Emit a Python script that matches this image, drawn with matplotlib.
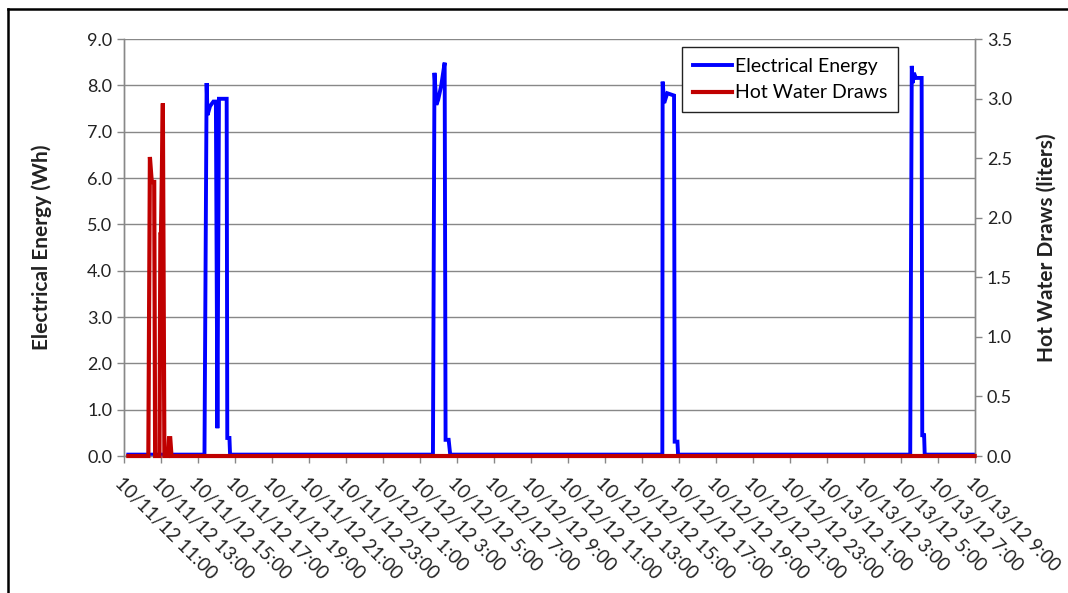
"""Electrical energy and hot water draws, 10/11/12 - 10/13/12.

Left axis: electrical energy per interval (Wh), right axis: hot water
draws (liters).  Output: out.png
"""

import matplotlib
matplotlib.use("Agg")
import matplotlib.pyplot as plt
import matplotlib.dates as mdates
from matplotlib.lines import Line2D
import pandas as pd

plt.rcParams['font.family'] = ['Lato', 'DejaVu Sans']

# ---- data ----
X_START = "2012-10-11 11:00"
X_END = "2012-10-13 09:00"

ELEC_TIMES = [
    "2012-10-11 11:14",
    "2012-10-11 15:21", "2012-10-11 15:28", "2012-10-11 15:31",
    "2012-10-11 15:39", "2012-10-11 15:50", "2012-10-11 15:58",
    "2012-10-11 16:03", "2012-10-11 16:08", "2012-10-11 16:33",
    "2012-10-11 16:35", "2012-10-11 16:42", "2012-10-11 16:44",
    "2012-10-12 03:42", "2012-10-12 03:47", "2012-10-12 03:53",
    "2012-10-12 03:59", "2012-10-12 04:09", "2012-10-12 04:20",
    "2012-10-12 04:23", "2012-10-12 04:33", "2012-10-12 04:38",
    "2012-10-12 16:06", "2012-10-12 16:07", "2012-10-12 16:12",
    "2012-10-12 16:22", "2012-10-12 16:44", "2012-10-12 16:46",
    "2012-10-12 16:55", "2012-10-12 16:57",
    "2012-10-13 05:30", "2012-10-13 05:35", "2012-10-13 05:38",
    "2012-10-13 05:42", "2012-10-13 05:48", "2012-10-13 06:07",
    "2012-10-13 06:09", "2012-10-13 06:15", "2012-10-13 06:17",
    "2012-10-13 08:59",
]
ELEC_WH = [
    0.03,
    0.03, 8.05, 7.36,
    7.55, 7.65, 7.65,
    0.60, 7.71, 7.71,
    0.39, 0.39, 0.03,
    0.03, 8.27, 7.58,
    7.69, 8.00, 8.49,
    0.35, 0.35, 0.03,
    0.03, 8.08, 7.62,
    7.83, 7.78, 0.31,
    0.31, 0.03,
    0.03, 8.42, 8.05,
    8.27, 8.16, 8.16,
    0.45, 0.45, 0.03,
    0.03,
]

WATER_TIMES = [
    "2012-10-11 11:14",
    "2012-10-11 12:19", "2012-10-11 12:24", "2012-10-11 12:30",
    "2012-10-11 12:38", "2012-10-11 12:41",
    "2012-10-11 12:55", "2012-10-11 12:58", "2012-10-11 13:00",
    "2012-10-11 13:06", "2012-10-11 13:11",
    "2012-10-11 13:23", "2012-10-11 13:26", "2012-10-11 13:30",
    "2012-10-11 13:34",
    "2012-10-13 08:59",
]
WATER_L = [
    0.0,
    0.0, 2.51, 2.30,
    2.30, 0.0,
    0.0, 1.86, 1.86,
    2.96, 0.0,
    0.0, 0.15, 0.15,
    0.0,
    0.0,
]

BLUE = '#0000FF'
RED = '#C00000'
GRID = '#888888'
TEXT = '#222222'


def fmt_tick(x, pos=None):
    d = mdates.num2date(x)
    return f"{d.month}/{d.day}/{d:%y} {d.hour}:{d:%M}"


def main():
    fig = plt.figure(figsize=(10.68, 5.93), dpi=100)
    ax = fig.add_axes([0.1161, 0.2310, 0.7968, 0.7032])
    ax2 = ax.twinx()

    t_e = pd.to_datetime(ELEC_TIMES)
    t_w = pd.to_datetime(WATER_TIMES)
    l1, = ax.plot(t_e, ELEC_WH, color=BLUE, lw=2.8, label='Electrical Energy',
                  solid_joinstyle='miter')
    l2, = ax2.plot(t_w, WATER_L, color=RED, lw=3.0, label='Hot Water Draws',
                   solid_joinstyle='miter', clip_on=False, zorder=5)

    ax.set_xlim(pd.Timestamp(X_START), pd.Timestamp(X_END))
    ax.set_ylim(0, 9)
    ax2.set_ylim(0, 3.5)
    ax.set_yticks([i * 1.0 for i in range(10)])
    ax2.set_yticks([i * 0.5 for i in range(8)])
    ax.yaxis.set_major_formatter(plt.FormatStrFormatter('%.1f'))
    ax2.yaxis.set_major_formatter(plt.FormatStrFormatter('%.1f'))

    ax.xaxis.set_major_locator(mdates.HourLocator(byhour=range(1, 24, 2)))
    ax.xaxis.set_major_formatter(plt.FuncFormatter(fmt_tick))

    ax.grid(True, axis='y', color=GRID, lw=1.0)
    ax.set_axisbelow(True)

    for a in (ax, ax2):
        a.spines['top'].set_visible(False)
        for side in ('left', 'right', 'bottom'):
            a.spines[side].set_color(GRID)
            a.spines[side].set_linewidth(1.0)
        a.tick_params(colors=GRID, length=5, width=1.0, labelsize=13,
                      labelcolor=TEXT)
    ax.tick_params(axis='x', labelsize=13.5, pad=8)

    for lab in ax.get_xticklabels():
        lab.set_rotation(-45)
        lab.set_ha('left')
        lab.set_va('top')
        lab.set_rotation_mode('anchor')

    ax.set_ylabel('Electrical Energy (Wh)', fontsize=15, fontweight='bold',
                  color=TEXT, labelpad=25)
    ax2.set_ylabel('Hot Water Draws (liters)', fontsize=15, fontweight='bold',
                   color=TEXT, labelpad=18)

    leg = ax2.legend(handles=[l1, l2], loc='upper right',
                     bbox_to_anchor=(0.9095, 0.981), borderaxespad=0,
                     fontsize=14, fancybox=False, framealpha=1,
                     edgecolor=TEXT, handlelength=2.0,
                     handletextpad=0.15, borderpad=0.55, labelspacing=0.5)
    leg.get_frame().set_linewidth(1.0)
    leg.set_zorder(10)

    # outer chart frame (top and left edges visible in the reference)
    fig.add_artist(Line2D([8 / 1068, 1.0], [1 - 9 / 593, 1 - 9 / 593],
                          color='black', lw=1.8))
    fig.add_artist(Line2D([8 / 1068, 8 / 1068], [0.0, 1 - 9 / 593],
                          color='black', lw=1.8))

    fig.savefig('out.png', dpi=100)
    plt.close(fig)


if __name__ == '__main__':
    main()
